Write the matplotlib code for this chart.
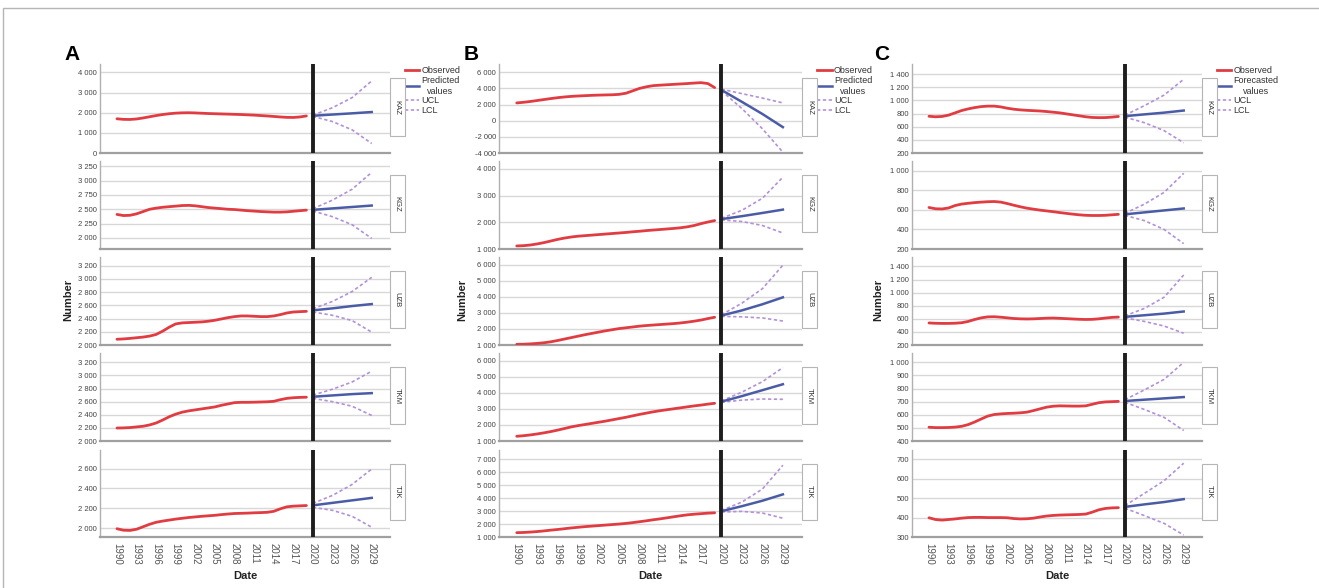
import matplotlib
matplotlib.use("Agg")
import matplotlib.pyplot as plt
from matplotlib.patches import Rectangle
from matplotlib.lines import Line2D
from matplotlib.ticker import FuncFormatter

plt.rcParams['font.family'] = ['Liberation Sans', 'DejaVu Sans']

countries = ['KAZ', 'KGZ', 'UZB', 'TKM', 'TJK']
years_obs = list(range(1990, 2020))
years_fc = [2020, 2023, 2026, 2029]
year_ticks = list(range(1990, 2030, 3))

# ---- panel A ----
obs_a = [
    [1700, 1670, 1665, 1690, 1740, 1800, 1860, 1910, 1950, 1980, 1995, 2000, 1990, 1975, 1960,
     1950, 1940, 1930, 1920, 1910, 1895, 1880, 1860, 1840, 1815, 1790, 1770, 1765, 1790, 1840],
    [2410, 2390, 2395, 2420, 2460, 2500, 2520, 2535, 2545, 2555, 2565, 2568, 2560, 2545, 2530,
     2520, 2510, 2500, 2495, 2485, 2475, 2468, 2460, 2455, 2450, 2450, 2455, 2465, 2475, 2485],
    [2087, 2092, 2100, 2110, 2120, 2135, 2160, 2210, 2270, 2320, 2335, 2340, 2345, 2350, 2360,
     2375, 2395, 2415, 2430, 2440, 2440, 2435, 2430, 2430, 2440, 2460, 2485, 2500, 2505, 2510],
    [2198, 2200, 2205, 2215, 2225, 2245, 2275, 2320, 2370, 2410, 2440, 2460, 2475, 2490, 2505,
     2520, 2545, 2565, 2585, 2590, 2590, 2592, 2595, 2598, 2605, 2630, 2650, 2660, 2665, 2668],
    [1995, 1980, 1978, 1990, 2015, 2040, 2060, 2072, 2082, 2092, 2100, 2108, 2114, 2120, 2125,
     2130, 2137, 2143, 2148, 2150, 2152, 2155, 2157, 2160, 2170, 2195, 2215, 2222, 2225, 2228],
]
pred_a = [[1850, 1910, 1970, 2035], [2490, 2515, 2540, 2565], [2525, 2555, 2590, 2620],
          [2675, 2695, 2715, 2730], [2230, 2255, 2280, 2305]]
ucl_a = [[1880, 2250, 2750, 3580], [2510, 2660, 2850, 3145], [2550, 2660, 2810, 3025],
         [2700, 2790, 2900, 3065], [2250, 2330, 2440, 2595]]
lcl_a = [[1820, 1560, 1150, 470], [2470, 2370, 2230, 1990], [2500, 2450, 2370, 2195],
         [2650, 2600, 2530, 2390], [2210, 2180, 2120, 2010]]
yticks_a = [list(range(0, 4001, 1000)), list(range(2000, 3251, 250)), list(range(2000, 3201, 200)),
            list(range(2000, 3201, 200)), list(range(2000, 2601, 200))]
ylims_a = [(0, 4420), (1806, 3343), (2000, 3333), (2000, 3342), (1912, 2786)]

# ---- panel B ----
obs_b = [
    [2200, 2280, 2380, 2500, 2620, 2740, 2850, 2940, 3010, 3060, 3100, 3140, 3170, 3190, 3210,
     3260, 3400, 3700, 4000, 4200, 4340, 4400, 4450, 4500, 4550, 4600, 4660, 4710, 4600, 4100],
    [1115, 1125, 1150, 1190, 1240, 1300, 1360, 1410, 1450, 1480, 1500, 1520, 1540, 1560, 1580,
     1600, 1620, 1645, 1665, 1690, 1710, 1730, 1750, 1770, 1795, 1830, 1880, 1950, 2010, 2065],
    [1043, 1050, 1070, 1100, 1140, 1200, 1280, 1370, 1460, 1550, 1640, 1720, 1800, 1880, 1950,
     2020, 2070, 2120, 2170, 2210, 2240, 2270, 2300, 2330, 2370, 2420, 2480, 2550, 2640, 2723],
    [1296, 1330, 1380, 1440, 1510, 1590, 1680, 1780, 1880, 1960, 2030, 2100, 2170, 2240, 2320,
     2400, 2480, 2570, 2660, 2740, 2820, 2890, 2950, 3010, 3070, 3130, 3190, 3240, 3300, 3352],
    [1335, 1350, 1380, 1420, 1470, 1530, 1580, 1640, 1700, 1750, 1800, 1840, 1880, 1920, 1960,
     2000, 2050, 2110, 2180, 2250, 2330, 2400, 2480, 2560, 2640, 2710, 2760, 2800, 2840, 2866],
]
pred_b = [[3800, 2330, 830, -800], [2120, 2230, 2350, 2475], [2830, 3150, 3530, 3960],
          [3455, 3800, 4170, 4540], [2990, 3380, 3800, 4290]]
ucl_b = [[3900, 3350, 2800, 2200], [2150, 2450, 2900, 3690], [2880, 3600, 4500, 5960],
         [3500, 4050, 4700, 5580], [3050, 3700, 4700, 6540]]
lcl_b = [[3700, 1500, -1000, -3900], [2090, 2030, 1880, 1600], [2780, 2750, 2680, 2490],
         [3410, 3550, 3620, 3600], [2930, 2980, 2850, 2450]]
yticks_b = [list(range(-4000, 6001, 2000)), list(range(1000, 4001, 1000)), list(range(1000, 6001, 1000)),
            list(range(1000, 6001, 1000)), list(range(1000, 7001, 1000))]
ylims_b = [(-4000, 7020), (1000, 4296), (1000, 6466), (1000, 6489), (1000, 7715)]

# ---- panel C ----
obs_c = [
    [758, 750, 755, 775, 810, 845, 870, 890, 905, 912, 912, 900, 880, 865, 855,
     848, 843, 838, 830, 820, 810, 795, 780, 765, 750, 740, 737, 738, 745, 755],
    [625, 612, 610, 620, 645, 660, 668, 675, 680, 684, 686, 680, 665, 648, 632,
     618, 608, 598, 590, 582, 573, 565, 557, 550, 545, 543, 543, 545, 550, 555],
    [537, 532, 530, 530, 533, 540, 560, 590, 615, 630, 632, 625, 615, 605, 600,
     598, 600, 605, 610, 612, 608, 603, 598, 593, 590, 592, 600, 612, 622, 627],
    [505, 502, 502, 503, 506, 512, 525, 545, 568, 590, 602, 607, 610, 612, 615,
     620, 632, 645, 658, 665, 668, 667, 666, 666, 668, 680, 692, 698, 700, 702],
    [399, 390, 387, 390, 393, 397, 400, 401, 401, 400, 400, 400, 399, 395, 393,
     394, 397, 403, 408, 411, 413, 414, 415, 416, 418, 428, 440, 447, 450, 451],
]
pred_c = [[760, 787, 813, 845], [555, 575, 595, 615], [630, 655, 680, 712],
          [705, 715, 725, 735], [455, 468, 480, 495]]
ucl_c = [[775, 920, 1080, 1320], [565, 660, 780, 975], [645, 760, 930, 1270],
         [715, 790, 870, 1000], [462, 525, 590, 680]]
lcl_c = [[745, 660, 540, 355], [545, 490, 400, 255], [615, 560, 490, 380],
         [695, 640, 580, 480], [448, 410, 370, 310]]
yticks_c = [list(range(200, 1401, 200)), list(range(200, 1001, 200)), list(range(200, 1401, 200)),
            list(range(400, 1001, 100)), list(range(300, 701, 100))]
ylims_c = [(200, 1552), (200, 1101), (200, 1545), (400, 1071), (300, 748)]

W, H = 1319, 588
RED = '#e03c42'
BLUE = '#4b5ca6'
PURPLE = '#b291d6'
row_top = [64, 161, 257, 353, 450]
row_bot = [153, 249, 345, 441, 537]

fig = plt.figure(figsize=(W / 100, H / 100), dpi=100)
fig.patch.set_facecolor('white')

thousands = FuncFormatter(lambda v, p: f"{int(round(v)):,}".replace(",", " "))


def draw_panel(left_px, right_px, obs, pred, ucl, lcl, yticks, ylims, pred_label):
    for i in range(5):
        top, bot = row_top[i], row_bot[i]
        ax = fig.add_axes([left_px / W, 1 - bot / H, (right_px - left_px) / W, (bot - top) / H])
        ax.plot(years_obs, obs[i], color=RED, lw=2, solid_capstyle='round', zorder=4)
        ax.plot(years_fc, ucl[i], color=PURPLE, lw=1.2, ls=(0, (2, 1.5)), zorder=4)
        ax.plot(years_fc, lcl[i], color=PURPLE, lw=1.2, ls=(0, (2, 1.5)), zorder=4)
        ax.plot(years_fc, pred[i], color=BLUE, lw=1.8, zorder=5)
        ax.axvline(2020, color='#1e1e1e', lw=2.8, zorder=6)

        ax.set_xlim(1987.4, 2031.8)
        ax.set_ylim(*ylims[i])
        ax.set_yticks(yticks[i])
        ax.yaxis.set_major_formatter(thousands)
        ax.grid(axis='y', color='#d8d8d8', lw=1)
        ax.set_axisbelow(True)
        for s in ['top', 'right']:
            ax.spines[s].set_visible(False)
        ax.spines['left'].set_color('#b0b0b0')
        ax.spines['left'].set_linewidth(1)
        ax.spines['bottom'].set_color('#a0a0a0')
        ax.spines['bottom'].set_linewidth(1.6)
        ax.tick_params(axis='y', length=0, pad=2, labelsize=5.5, labelcolor='#444444')
        ax.set_xticks(year_ticks)
        if i == 4:
            ax.set_xticklabels([str(y) for y in year_ticks], rotation=270)
            ax.tick_params(axis='x', length=0, pad=4, labelsize=7, labelcolor='#555555')
        else:
            ax.tick_params(axis='x', length=0, labelbottom=False)

        # facet strip
        ax.add_patch(Rectangle((1.0, 0.19), 0.05, 0.65, transform=ax.transAxes, facecolor='white',
                               edgecolor='#b5b5b5', lw=0.8, clip_on=False, zorder=7))
        ax.text(1.025, 0.515, countries[i], transform=ax.transAxes, rotation=270, fontsize=5.5,
                ha='center', va='center', color='#333333', zorder=8)

        if i == 0:
            handles = [Line2D([], [], color=RED, lw=2),
                       Line2D([], [], color=BLUE, lw=1.8),
                       Line2D([], [], color=PURPLE, lw=1.2, ls=(0, (2, 1.5))),
                       Line2D([], [], color=PURPLE, lw=1.2, ls=(0, (2, 1.5)))]
            leg = ax.legend(handles, ['Observed', pred_label, 'UCL', 'LCL'], loc='upper left',
                            bbox_to_anchor=(1.05, 0.975), frameon=False, fontsize=6.5,
                            handlelength=1.6, handletextpad=0.25, labelspacing=0.1,
                            borderpad=0, borderaxespad=0)
            for t in leg.get_texts():
                t.set_multialignment('center')
                t.set_color('#333333')


draw_panel(100, 390, obs_a, pred_a, ucl_a, lcl_a, yticks_a, ylims_a, 'Predicted\nvalues')
draw_panel(499, 802, obs_b, pred_b, ucl_b, lcl_b, yticks_b, ylims_b, 'Predicted\nvalues')
draw_panel(912, 1202, obs_c, pred_c, ucl_c, lcl_c, yticks_c, ylims_c, 'Forecasted\nvalues')

for letter, x in [('A', 64), ('B', 464), ('C', 874)]:
    fig.text(x / W, 1 - 54 / H, letter, fontsize=15, fontweight='bold', va='center', ha='left')
for x in [68, 462, 878]:
    fig.text(x / W, 1 - 300 / H, 'Number', rotation=90, fontsize=8, fontweight='bold',
             ha='center', va='center', color='#222222')
for x in [245, 650, 1057]:
    fig.text(x / W, 1 - 576 / H, 'Date', fontsize=8, fontweight='bold', ha='center', va='center',
             color='#222222')

fig.patches.append(Rectangle((3 / W, -0.1), 1.2, 1.1 - 8.5 / H, transform=fig.transFigure,
                             fill=False, edgecolor='#b5b5b5', lw=1))

fig.savefig('out.png', dpi=100)
